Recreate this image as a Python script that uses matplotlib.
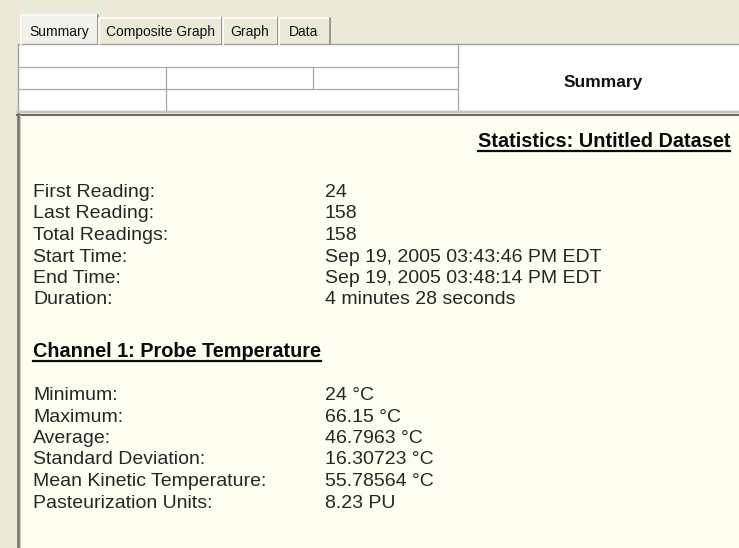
import matplotlib.pyplot as plt
from matplotlib.patches import Rectangle

plt.rcParams['font.family'] = ['Liberation Sans', 'DejaVu Sans']

# Tabs of the window
tabs = ["Summary", "Composite Graph", "Graph", "Data"]
tab_edges = [20, 98, 222, 278, 330]

# Dataset statistics
stats_title = "Statistics: Untitled Dataset"
stats_labels = ["First Reading:", "Last Reading:", "Total Readings:",
                "Start Time:", "End Time:", "Duration:"]
stats_values = ["24", "158", "158",
                "Sep 19, 2005 03:43:46 PM EDT", "Sep 19, 2005 03:48:14 PM EDT",
                "4 minutes 28 seconds"]

# Channel statistics
channel_title = "Channel 1: Probe Temperature"
channel_labels = ["Minimum:", "Maximum:", "Average:", "Standard Deviation:",
                  "Mean Kinetic Temperature:", "Pasteurization Units:"]
channel_values = ["24 °C", "66.15 °C", "46.7963 °C", "16.30723 °C",
                  "55.78564 °C", "8.23 PU"]

W, H = 739, 548
fig = plt.figure(figsize=(W / 100, H / 100), dpi=100)
fig.patch.set_facecolor("#ECE9D8")
ax = fig.add_axes([0, 0, 1, 1])
ax.set_xlim(0, W)
ax.set_ylim(H, 0)
ax.axis("off")

# Tabs
for i, name in enumerate(tabs):
    x0, x1 = tab_edges[i], tab_edges[i + 1]
    top = 15 if i == 0 else 17.5
    ax.add_patch(Rectangle((x0, top), x1 - x0, 44 - top,
                           facecolor="#F2F1EA" if i == 0 else "#ECE9D8", edgecolor="none"))
    ax.plot([x0 + 0.5, x0 + 0.5, x1], [44, top, top], color="white", lw=1.2)
    ax.plot([x1 - 0.5, x1 - 0.5], [top, 44], color="#8E8C80", lw=1.2)
    ax.text((x0 + x1) / 2, 32, name, ha="center", va="center",
            fontsize=10, color="#111111")

# Header box
ax.add_patch(Rectangle((17.5, 44), W - 17, 67, facecolor="white", edgecolor="#A0A0A0", lw=1))
ax.plot([17.5, 458], [67, 67], color="#A8A8A8", lw=0.9)
ax.plot([17.5, 458], [88.5, 88.5], color="#A8A8A8", lw=0.9)
ax.plot([166, 166], [67, 111], color="#A8A8A8", lw=0.9)
ax.plot([312.5, 312.5], [67, 88.5], color="#A8A8A8", lw=0.9)
ax.plot([458, 458], [44, 111], color="#A8A8A8", lw=0.9)
ax.text(603, 87, "Summary", ha="center", va="baseline", fontsize=12.5, fontweight="bold",
        color="#111111")
ax.plot([17, W], [112, 112], color="#C9C6B8", lw=1.5)
ax.plot([17, W], [114.5, 114.5], color="#6E6C62", lw=1.5)

# Main panel
ax.add_patch(Rectangle((18, 115.5), W - 18, H - 115.5, facecolor="#FEFEF0", edgecolor="none"))
ax.plot([18, 18], [114, H], color="#6E6C62", lw=1.8)
ax.plot([20.2, 20.2], [115, H], color="#C9C6B8", lw=0.8)

# Section headings (bold, underlined)
t1 = ax.text(730, 147, stats_title, ha="right", va="baseline", fontsize=14.3,
             fontweight="bold", color="#0A0A0A")
t2 = ax.text(33, 357, channel_title, ha="left", va="baseline", fontsize=14.3,
             fontweight="bold", color="#0A0A0A")
fig.canvas.draw()
inv = ax.transData.inverted()
for t in (t1, t2):
    bb = t.get_window_extent()
    (x0, _), (x1, _) = inv.transform([[bb.x0, bb.y0], [bb.x1, bb.y1]])
    y = t.get_position()[1] + 4
    ax.plot([x0, x1], [y, y], color="#0A0A0A", lw=1.6)

# Rows
row_step = 21.5
for i, (lab, val) in enumerate(zip(stats_labels, stats_values)):
    y = 197 + i * row_step
    ax.text(33, y, lab, ha="left", va="baseline", fontsize=14, color="#262626")
    ax.text(325, y, val, ha="left", va="baseline", fontsize=14, color="#262626")

for i, (lab, val) in enumerate(zip(channel_labels, channel_values)):
    y = 400 + i * row_step
    ax.text(33, y, lab, ha="left", va="baseline", fontsize=14, color="#262626")
    ax.text(325, y, val, ha="left", va="baseline", fontsize=14, color="#262626")

fig.savefig("out.png", dpi=100, facecolor=fig.get_facecolor())
